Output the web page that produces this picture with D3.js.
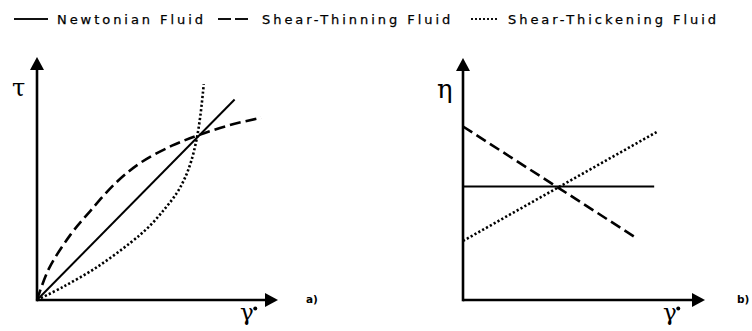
<!DOCTYPE html>
<html>
<head>
<meta charset="utf-8">
<script src="https://cdn.jsdelivr.net/npm/d3@7"></script>
<style>
  html, body { margin: 0; padding: 0; background: #fff; }
  svg { display: block; }
  .legend-text { font-family: "DejaVu Sans", sans-serif; font-size: 13px; letter-spacing: 2.95px; fill: #000; stroke: #000; stroke-width: 0.25px; }
  .sym { font-family: "DejaVu Serif", "Liberation Serif", serif; fill: #000; }
  .panel-tag { font-family: "DejaVu Sans", sans-serif; font-size: 10.5px; font-weight: bold; fill: #000; }
</style>
</head>
<body>
<svg id="chart" width="752" height="331"></svg>
<script>
// Legend entries (order: Newtonian, shear-thinning, shear-thickening)
const fluidNames = ["Newtonian Fluid", "Shear-Thinning Fluid", "Shear-Thickening Fluid"];
const fluidStyles = ["solid", "dashed", "dotted"];

// Panel a): shear stress τ against shear rate γ̇ (arbitrary units)
const stressNewtonian = [[0, 0], [8.2, 8.25]];
const stressThinning = [[0, 0], [0.5, 1.3], [1.4, 2.7], [2.2, 3.65], [3.3, 4.85], [4.3, 5.65],
                        [5.6, 6.35], [6.7, 6.78], [8.0, 7.2], [9.3, 7.5]];
const stressThickening = [[0, 0], [1.08, 0.54], [2.5, 1.36], [3.88, 2.36], [4.63, 3.0],
                          [5.3, 3.75], [5.8, 4.4], [6.15, 5.05], [6.4, 5.72],
                          [6.62, 6.6], [6.78, 7.6], [6.92, 8.88]];

// Panel b): viscosity η against shear rate γ̇ (arbitrary units)
const viscNewtonian = [[0, 4.69], [7.9, 4.69]];
const viscThinning = [[0, 7.17], [7.2, 2.54]];
const viscThickening = [[0, 2.44], [8.0, 6.94]];

const svg = d3.select("#chart");

const dashFor = {
  solid: null,
  dashed: "11,5",
  dotted: "2.2,2.2"
};
const widthFor = { solid: 2, dashed: 2.6, dotted: 2.6 };

function drawPanel(cfg) {
  const x = d3.scaleLinear().domain([0, 10]).range(cfg.xRange);
  const y = d3.scaleLinear().domain([0, 10]).range(cfg.yRange);
  const g = svg.append("g");

  const arrowLen = 13, arrowHalf = 7;
  const ox = x(0), oy = y(0), xEnd = x(10), yEnd = y(10);

  // axes with arrowheads
  g.append("line").attr("x1", ox).attr("y1", oy).attr("x2", xEnd - arrowLen + 1).attr("y2", oy)
    .attr("stroke", "#000").attr("stroke-width", 2.6);
  g.append("line").attr("x1", ox).attr("y1", oy + 1.3).attr("x2", ox).attr("y2", yEnd + arrowLen - 1)
    .attr("stroke", "#000").attr("stroke-width", 2.6);
  g.append("path")
    .attr("d", `M${xEnd},${oy}L${xEnd - arrowLen},${oy - arrowHalf}L${xEnd - arrowLen},${oy + arrowHalf}Z`)
    .attr("fill", "#000");
  g.append("path")
    .attr("d", `M${ox},${yEnd}L${ox - arrowHalf},${yEnd + arrowLen}L${ox + arrowHalf},${yEnd + arrowLen}Z`)
    .attr("fill", "#000");

  const line = d3.line().x(d => x(d[0])).y(d => y(d[1])).curve(d3.curveCatmullRom.alpha(0.5));

  cfg.series.forEach(s => {
    g.append("path")
      .datum(s.data)
      .attr("d", line)
      .attr("fill", "none")
      .attr("stroke", "#000")
      .attr("stroke-width", widthFor[s.style])
      .attr("stroke-dasharray", dashFor[s.style]);
  });

  // axis symbols: τ / η on the vertical axis, γ with a rate dot on the horizontal axis
  g.append("text").attr("class", "sym")
    .attr("x", ox - cfg.yLabelDx).attr("y", yEnd + cfg.yLabelDy)
    .attr("font-size", cfg.yLabelSize)
    .attr("font-family", cfg.yLabelFont)
    .text(cfg.yLabel);
  const gx = g.append("text").attr("class", "sym")
    .attr("x", xEnd - cfg.xLabelDx).attr("y", oy + 20)
    .attr("font-size", 23)
    .text("γ");
  const bb = gx.node().getBBox();
  g.append("circle")
    .attr("cx", bb.x + bb.width + 1.5).attr("cy", oy + 8.5)
    .attr("r", 2)
    .attr("fill", "#000");

  g.append("text").attr("class", "panel-tag")
    .attr("x", cfg.tagX).attr("y", oy + 3)
    .text(cfg.tag);
}

drawPanel({
  xRange: [37, 278],
  yRange: [300, 57],
  series: [
    { data: stressNewtonian, style: "solid" },
    { data: stressThinning, style: "dashed" },
    { data: stressThickening, style: "dotted" }
  ],
  yLabel: "τ", yLabelDx: 25, yLabelDy: 39, yLabelSize: 24, yLabelFont: "DejaVu Serif",
  xLabelDx: 38,
  tag: "a)", tagX: 306
});

drawPanel({
  xRange: [463, 705],
  yRange: [300, 58],
  series: [
    { data: viscNewtonian, style: "solid" },
    { data: viscThinning, style: "dashed" },
    { data: viscThickening, style: "dotted" }
  ],
  yLabel: "η", yLabelDx: 26, yLabelDy: 40, yLabelSize: 26, yLabelFont: "Liberation Serif",
  xLabelDx: 42,
  tag: "b)", tagX: 737
});

// legend
const legendX = [[14, 48], [218, 249], [471, 499]];
const legendTextX = [57, 262, 508];
const legendDash = { solid: null, dashed: "13,4", dotted: "2,2" };
const lg = svg.append("g");
fluidNames.forEach((name, i) => {
  lg.append("line")
    .attr("x1", legendX[i][0]).attr("x2", legendX[i][1])
    .attr("y1", 19).attr("y2", 19)
    .attr("stroke", "#111")
    .attr("stroke-width", fluidStyles[i] === "dotted" ? 1.8 : 2)
    .attr("stroke-dasharray", legendDash[fluidStyles[i]]);
  lg.append("text").attr("class", "legend-text")
    .attr("x", legendTextX[i]).attr("y", 24)
    .text(name);
});
</script>
</body>
</html>
